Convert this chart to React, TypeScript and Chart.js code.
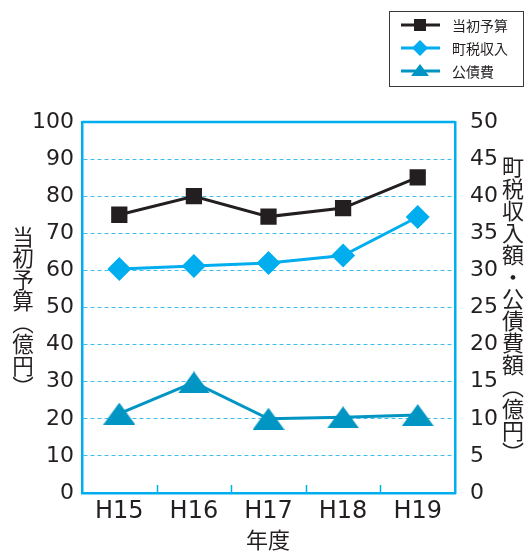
import React, { useEffect, useRef } from 'react';
import { Chart, registerables } from 'chart.js';

Chart.register(...registerables);

const categories = ['H15', 'H16', 'H17', 'H18', 'H19'];
const budget = [75, 80, 74.5, 76.8, 85.1];
const taxRevenue = [30.2, 30.6, 31.0, 32.0, 37.2];
const debtService = [10.7, 14.9, 10.0, 10.2, 10.5];
const seriesLabels = ['当初予算', '町税収入', '公債費'];
const leftAxisTitle = '当初予算（億円）';
const rightAxisTitle = '町税収入額・公債費額（億円）';
const xAxisTitle = '年度';

const INK = '#231f20';
const CYAN = '#00aeef';
const TEAL = '#0095c3';
const GRID = '#3dbdee';

function makeTriangle(w: number, h: number, color: string) {
  const c = document.createElement('canvas');
  c.width = w;
  c.height = h;
  const ctx = c.getContext('2d')!;
  ctx.fillStyle = color;
  ctx.beginPath();
  ctx.moveTo(w / 2, 0);
  ctx.lineTo(w, h);
  ctx.lineTo(0, h);
  ctx.closePath();
  ctx.fill();
  return c;
}

const framePlugin = {
  id: 'frame',
  beforeDatasetsDraw(chart: any) {
    const { ctx, chartArea } = chart;
    const x = chart.scales.x;
    ctx.save();
    ctx.strokeStyle = CYAN;
    ctx.lineWidth = 2.5;
    ctx.beginPath();
    ctx.moveTo(chartArea.left, chartArea.top);
    ctx.lineTo(chartArea.right, chartArea.top);
    ctx.stroke();
    ctx.lineWidth = 1.5;
    for (let i = 0; i < categories.length - 1; i++) {
      const px = Math.round((x.getPixelForValue(i) + x.getPixelForValue(i + 1)) / 2) + 0.5;
      ctx.beginPath();
      ctx.moveTo(px, chartArea.bottom);
      ctx.lineTo(px, chartArea.bottom - 8);
      ctx.stroke();
    }
    ctx.restore();
  },
};

const legendPlugin = {
  id: 'boxLegend',
  afterDraw(chart: any) {
    const { ctx } = chart;
    ctx.save();
    ctx.strokeStyle = '#3a3a3a';
    ctx.lineWidth = 1;
    ctx.strokeRect(389.5, 11.5, 134, 75);
    const rows = [25, 48, 71];
    chart.data.datasets.forEach((ds: any, i: number) => {
      const y = rows[i];
      ctx.strokeStyle = ds.borderColor;
      ctx.lineWidth = 3;
      ctx.beginPath();
      ctx.moveTo(401, y);
      ctx.lineTo(440, y);
      ctx.stroke();
      ctx.fillStyle = ds.pointBackgroundColor;
      ctx.beginPath();
      if (i === 0) {
        ctx.rect(414, y - 6, 12, 12);
      } else if (i === 1) {
        ctx.moveTo(420, y - 8);
        ctx.lineTo(428, y);
        ctx.lineTo(420, y + 8);
        ctx.lineTo(412, y);
        ctx.closePath();
      } else {
        ctx.moveTo(420, y - 7);
        ctx.lineTo(429, y + 5);
        ctx.lineTo(411, y + 5);
        ctx.closePath();
      }
      ctx.fill();
      ctx.fillStyle = INK;
      ctx.font = '14px "Noto Sans CJK JP"';
      ctx.textBaseline = 'middle';
      ctx.fillText(ds.label, 452, y + 1);
    });
    ctx.restore();
  },
};

export default function App() {
  const ref = useRef<HTMLCanvasElement>(null);
  useEffect(() => {
    if (!ref.current) return;
    const tri = makeTriangle(32, 22, TEAL);
    const tickFont = { family: '"DejaVu Sans", sans-serif', size: 22 };
    const chart = new Chart(ref.current, {
      type: 'line',
      data: {
        labels: categories,
        datasets: [
          {
            label: seriesLabels[0],
            data: budget,
            yAxisID: 'y',
            borderColor: INK,
            backgroundColor: INK,
            pointBackgroundColor: INK,
            pointBorderWidth: 0,
            borderWidth: 3,
            pointStyle: 'rect',
            pointRadius: 11.5,
            tension: 0,
          },
          {
            label: seriesLabels[1],
            data: taxRevenue,
            yAxisID: 'y1',
            borderColor: CYAN,
            backgroundColor: CYAN,
            pointBackgroundColor: CYAN,
            pointBorderWidth: 0,
            borderWidth: 3,
            pointStyle: 'rectRot',
            pointRadius: 12,
            tension: 0,
          },
          {
            label: seriesLabels[2],
            data: debtService,
            yAxisID: 'y1',
            borderColor: TEAL,
            backgroundColor: TEAL,
            pointBackgroundColor: TEAL,
            pointBorderWidth: 0,
            borderWidth: 3,
            pointStyle: tri as any,
            pointRadius: 16,
            tension: 0,
          },
        ],
      },
      options: {
        responsive: false,
        animation: false,
        layout: { padding: { top: 122, left: 0, right: 0, bottom: 0 } },
        plugins: { legend: { display: false }, tooltip: { enabled: false } },
        scales: {
          x: {
            type: 'category',
            offset: true,
            grid: { display: false },
            border: { display: true, color: CYAN, width: 2.5 },
            ticks: { font: { ...tickFont, size: 24 }, color: INK, padding: -4 },
            afterFit: (s: any) => { s.height = 58; },
          },
          y: {
            position: 'left',
            min: 0,
            max: 100,
            ticks: { stepSize: 10, font: tickFont, color: INK, padding: 8 },
            grid: { color: GRID, lineWidth: 1, drawTicks: false },
            border: { display: true, color: CYAN, width: 2.5, dash: [4, 3] },
            afterFit: (s: any) => { s.width = 82; },
          },
          y1: {
            position: 'right',
            min: 0,
            max: 50,
            ticks: { stepSize: 5, font: tickFont, color: INK, padding: 7 },
            grid: { display: false, drawOnChartArea: false },
            border: { display: true, color: CYAN, width: 2.5 },
            afterFit: (s: any) => { s.width = 70; },
          },
        },
      },
      plugins: [framePlugin, legendPlugin],
    } as any);
    return () => chart.destroy();
  }, []);

  const cjk = '"Noto Sans CJK JP", sans-serif';
  return (
    <div style={{ position: 'absolute', left: 0, top: 0, width: 525, height: 551, background: '#fff', overflow: 'hidden' }}>
      <canvas ref={ref} width={525} height={551} style={{ display: 'block', width: 525, height: 551 }} />
      <div style={{ position: 'absolute', left: 12, top: 226, writingMode: 'vertical-rl', fontSize: 21.5, lineHeight: 1, fontFamily: cjk, color: INK }}>
        {leftAxisTitle}
      </div>
      <div style={{ position: 'absolute', left: 502, top: 156, writingMode: 'vertical-rl', fontSize: 22, lineHeight: 1, fontFamily: cjk, color: INK }}>
        {rightAxisTitle}
      </div>
      <div style={{ position: 'absolute', left: 268, top: 527, transform: 'translateX(-50%)', fontSize: 22, lineHeight: 1, fontFamily: cjk, color: INK, whiteSpace: 'nowrap' }}>
        {xAxisTitle}
      </div>
    </div>
  );
}
